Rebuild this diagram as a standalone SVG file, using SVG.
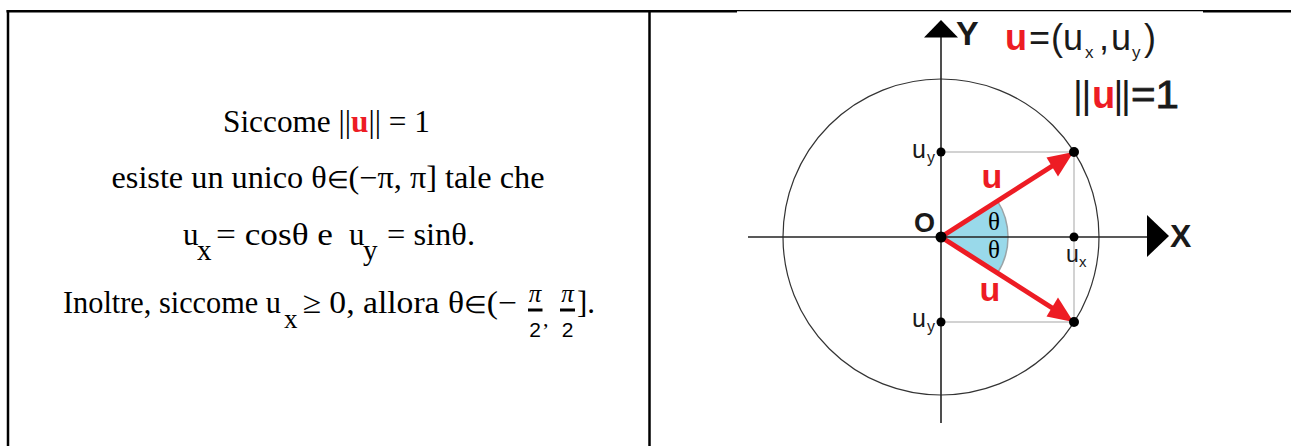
<svg xmlns="http://www.w3.org/2000/svg" width="1291" height="446" viewBox="0 0 1291 446">
<style>
  .serif { font-family: "Liberation Serif", "Times New Roman", serif; fill: #000; }
  .sans { font-family: "Liberation Sans", Arial, sans-serif; fill: #1a1a1a; }
  .red { fill: #ed1c24; font-weight: bold; }
  .elem { font-size: 24px; }
  .border { stroke: #000; stroke-width: 2.5; fill: none; }
  .guide { stroke: #c3c3c3; stroke-width: 1.5; fill: none; }
  .axis { stroke: #222; stroke-width: 1.6; fill: none; }
  .vec { stroke: #ed1c24; stroke-width: 5; fill: none; }
  .dot { fill: #000; }
  .fbar { stroke: #000; stroke-width: 3; }
</style>
<rect width="1291" height="446" fill="#fff"/>

<g id="table">
  <line class="border" x1="6.5" y1="11.2" x2="737" y2="11.2"/>
  <line x1="737" y1="10.6" x2="1203" y2="10.6" stroke="#000" stroke-width="1.2"/>
  <line class="border" x1="1203" y1="11.2" x2="1291" y2="11.2"/>
  <line class="border" x1="8" y1="10" x2="8" y2="446"/>
  <line class="border" x1="649.5" y1="10" x2="649.5" y2="446"/>
</g>

<g id="text-left" class="serif" font-size="31">
  <text x="223" y="132" textLength="207" lengthAdjust="spacingAndGlyphs">Siccome ||<tspan class="red">u</tspan>|| = 1</text>
  <text x="111.5" y="188" textLength="433" lengthAdjust="spacingAndGlyphs">esiste un unico θ<tspan class="elem">∈</tspan>(−π, π] tale che</text>
  <text x="183" y="245">u</text>
  <text x="197" y="260" font-size="29">x</text>
  <text x="216" y="245" textLength="117" lengthAdjust="spacingAndGlyphs">= cosθ  e</text>
  <text x="349" y="245">u</text>
  <text x="363" y="260" font-size="29">y</text>
  <text x="387" y="245" textLength="88" lengthAdjust="spacingAndGlyphs">= sinθ.</text>
  <text x="63" y="313" textLength="218" lengthAdjust="spacingAndGlyphs">Inoltre, siccome u</text>
  <text x="284" y="328" font-size="27">x</text>
  <text x="302.5" y="313" textLength="214.5" lengthAdjust="spacingAndGlyphs">≥ 0, allora θ<tspan class="elem">∈</tspan>(−</text>
  <text x="535" y="302" font-size="25" font-style="italic" text-anchor="middle">π</text>
  <line class="fbar" x1="528" y1="310" x2="542.5" y2="310"/>
  <text x="535" y="337" font-size="21" text-anchor="middle" font-family="Liberation Sans, Arial, sans-serif">2</text>
  <text x="543" y="326" font-size="22">,</text>
  <text x="567.5" y="302" font-size="25" font-style="italic" text-anchor="middle">π</text>
  <line class="fbar" x1="560" y1="310" x2="575" y2="310"/>
  <text x="567.5" y="337" font-size="21" text-anchor="middle" font-family="Liberation Sans, Arial, sans-serif">2</text>
  <text x="577" y="313">].</text>
</g>

<g id="circle">
  <circle cx="941" cy="237" r="158" fill="none" stroke="#333" stroke-width="1.2"/>
</g>

<g id="projections">
  <line class="guide" x1="941" y1="152" x2="1074" y2="152"/>
  <line class="guide" x1="1074" y1="152" x2="1074" y2="322"/>
  <line class="guide" x1="941" y1="322" x2="1074" y2="322"/>
</g>

<g id="angle-sector">
  <path d="M941,237 L997.4,200.8 A67,67 0 0,1 997.4,273.2 Z" fill="#99d9ea"/>
  <path d="M997.4,200.8 A67,67 0 0,1 997.4,273.2" fill="none" stroke="#9aa5a8" stroke-width="1.5"/>
</g>

<g id="connectors">
  <line class="axis" x1="748" y1="237" x2="1149" y2="237"/>
  <polygon points="1147,215 1147,257 1169,236" fill="#000"/>
  <line class="axis" x1="941" y1="423" x2="941" y2="36"/>
  <polygon points="924,37.5 958,37.5 941,20" fill="#000"/>
  <line class="vec" x1="941" y1="237" x2="1053" y2="165.5"/>
  <polygon points="1073.5,152 1046.5,157.5 1058,176.5" fill="#ed1c24"/>
  <line class="vec" x1="941" y1="237" x2="1053" y2="308.5"/>
  <polygon points="1073.5,322 1046.5,316.5 1058,297.5" fill="#ed1c24"/>
</g>

<g id="points">
  <circle class="dot" cx="941" cy="237" r="5.5"/>
  <circle class="dot" cx="1074" cy="152" r="5"/>
  <circle class="dot" cx="1074" cy="322" r="5"/>
  <circle class="dot" cx="941" cy="152" r="4.5"/>
  <circle class="dot" cx="941" cy="322" r="4.5"/>
  <circle class="dot" cx="1074" cy="237" r="4.5"/>
</g>

<g id="labels" class="sans">
  <text x="956" y="45" font-size="34" font-weight="bold">Y</text>
  <text x="1170" y="247" font-size="32" font-weight="bold">X</text>
  <text x="914" y="232" font-size="27" font-weight="bold">O</text>
  <text x="994" y="230" class="serif" font-size="25" text-anchor="middle" fill="#1a1a1a">θ</text>
  <text x="994" y="258" class="serif" font-size="25" text-anchor="middle" fill="#1a1a1a">θ</text>
  <text x="992" y="188" font-size="34" class="red" text-anchor="middle">u</text>
  <text x="990" y="301" font-size="34" class="red" text-anchor="middle">u</text>
  <text x="912" y="158" font-size="25">u</text>
  <text x="927" y="163" font-size="16">y</text>
  <text x="912" y="327" font-size="25">u</text>
  <text x="927" y="332" font-size="16">y</text>
  <text x="1066" y="262" font-size="23">u</text>
  <text x="1079" y="267" font-size="15">x</text>
</g>

<g id="formula" class="sans" font-size="36">
  <text y="50"><tspan x="1005" class="red">u</tspan><tspan x="1029">=</tspan><tspan x="1051">(</tspan><tspan x="1063">u</tspan><tspan x="1085" y="58" font-size="17">x</tspan><tspan x="1099" y="50">,</tspan><tspan x="1111">u</tspan><tspan x="1132" y="58" font-size="17">y</tspan><tspan x="1144" y="50">)</tspan></text>
  <text y="108" font-size="38"><tspan x="1073">|</tspan><tspan x="1081.5">|</tspan><tspan x="1092" class="red">u</tspan><tspan x="1113.5">|</tspan><tspan x="1121">|</tspan></text>
  <text x="1131" y="108" font-size="38" textLength="48" lengthAdjust="spacingAndGlyphs" stroke="#1a1a1a" stroke-width="0.8">=1</text>
</g>
</svg>
